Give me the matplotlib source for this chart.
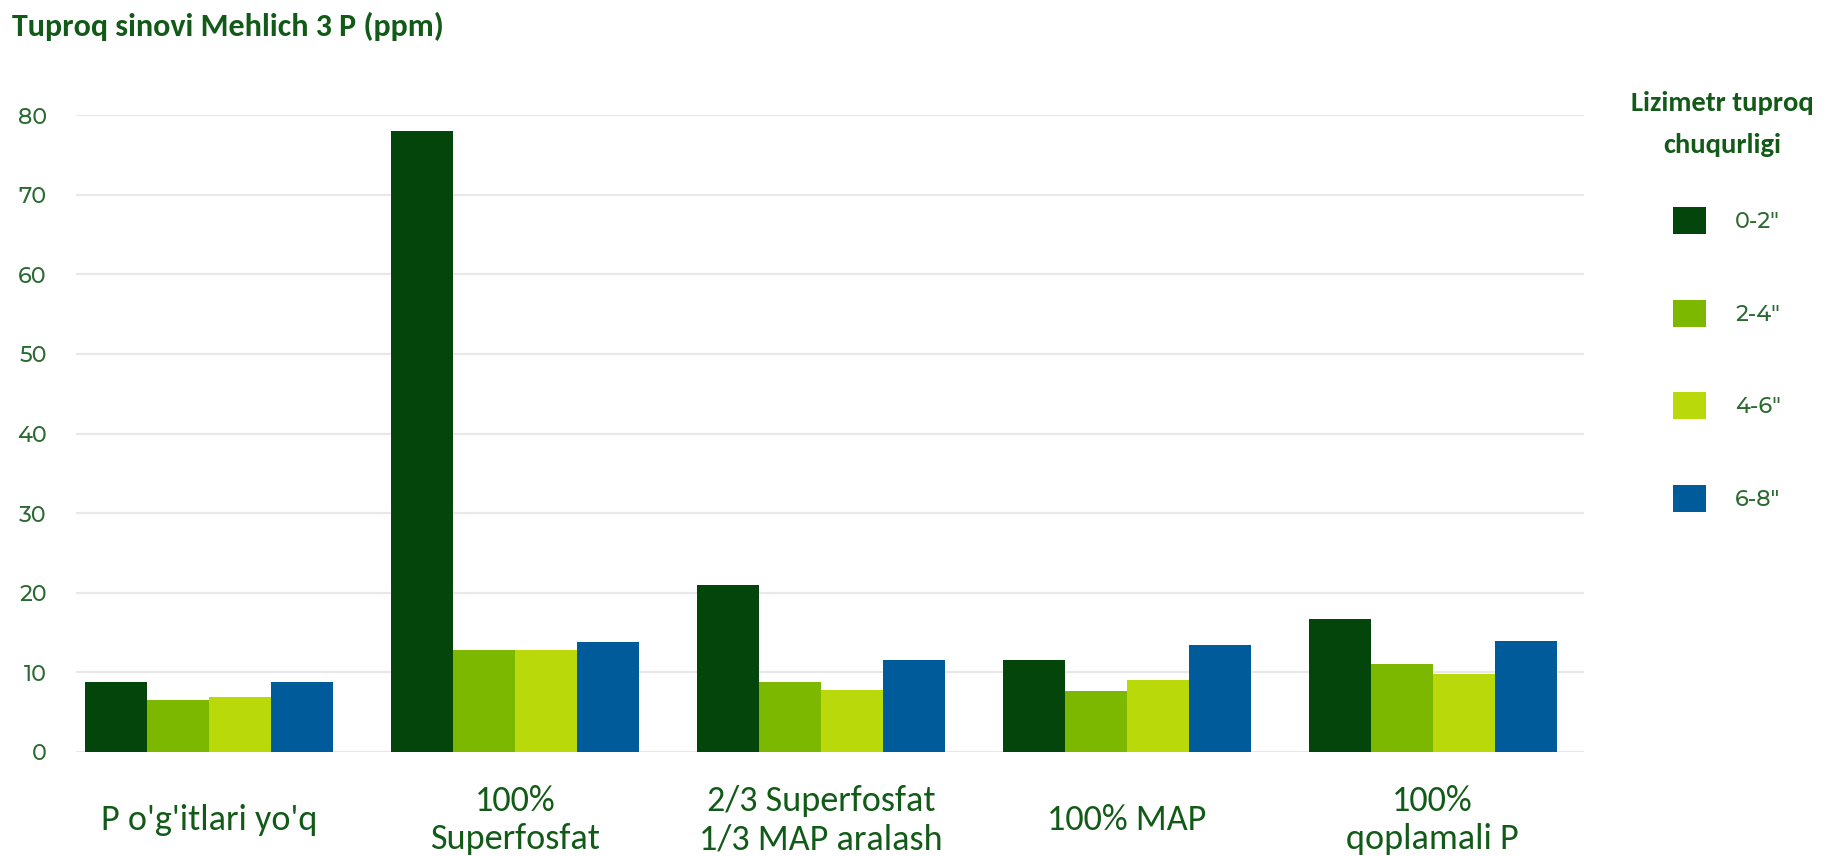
import numpy as np
import matplotlib.pyplot as plt

treatments = ["P o'g'itlari yo'q", "100%\nSuperfosfat", "2/3 Superfosfat\n1/3 MAP aralash",
              "100% MAP", "100%\nqoplamali P"]
depths = ["0-2\u2033", "2-4\u2033", "4-6\u2033", "6-8\u2033"]
depth_0_2 = [8.8, 78.0, 21.0, 11.6, 16.7]
depth_2_4 = [6.5, 12.8, 8.8, 7.6, 11.1]
depth_4_6 = [6.9, 12.8, 7.8, 9.0, 9.8]
depth_6_8 = [8.8, 13.8, 11.6, 13.5, 14.0]
yticks = [0, 10, 20, 30, 40, 50, 60, 70, 80]

colors = ["#03450b", "#7db800", "#b9d90b", "#005b9b"]
dark_green = "#125a17"
tick_green = "#2b6a30"
label_font = ["Carlito", "Liberation Sans", "DejaVu Sans"]
num_font = ["Montserrat Alternates", "DejaVu Sans"]

fig = plt.figure(figsize=(18.4, 8.56), dpi=100)
ax = fig.add_axes([76 / 1840, 1 - 752 / 856, (1584 - 76) / 1840, (752 - 115) / 856])

x = np.arange(len(treatments))
w = 0.2026
series = [depth_0_2, depth_2_4, depth_4_6, depth_6_8]
bars = []
for i, vals in enumerate(series):
    b = ax.bar(x + (i - 1.5) * w, vals, width=w, color=colors[i], label=depths[i], zorder=3)
    bars.append(b)

ax.set_xlim(-0.435, 4.495)
ax.set_ylim(0, 80)
ax.set_yticks(yticks)
ax.yaxis.grid(True, color="#e8e8e8", linewidth=1.6, zorder=0)
ax.set_axisbelow(True)
for s in ax.spines.values():
    s.set_visible(False)
ax.tick_params(axis="y", length=0, pad=21, labelsize=16, labelcolor=tick_green)
for lbl in ax.get_yticklabels():
    lbl.set_fontfamily(num_font)
    lbl.set_fontweight("medium")

ax.set_xticks(x)
ax.set_xticklabels(treatments, fontsize=26, color=dark_green, fontfamily=label_font,
                   linespacing=1.26)
ax.tick_params(axis="x", length=0, pad=49)
for lbl in ax.get_xticklabels():
    lbl.set_va("center")

fig.text(12 / 1840, 1 - 26 / 856, "Tuproq sinovi Mehlich 3 P (ppm)", fontsize=23, fontweight="bold",
         color=dark_green, family=label_font, va="center", ha="left")

fig.text(1722 / 1840, 1 - 124 / 856, "Lizimetr tuproq\nchuqurligi", fontsize=20.5, fontweight="bold",
         color=dark_green, family=label_font, va="center", ha="center", linespacing=1.9)

leg = ax.legend(handles=bars, labels=depths, loc="upper left",
                bbox_to_anchor=(1673 / 1840, 1 - 207 / 856), bbox_transform=fig.transFigure,
                frameon=False, borderpad=0, borderaxespad=0,
                handlelength=1.5, handleheight=1.5, handletextpad=1.3, labelspacing=2.95,
                prop={"family": num_font, "size": 16, "weight": "medium"})
for t in leg.get_texts():
    t.set_color(tick_green)

fig.savefig("out.png", dpi=100)
